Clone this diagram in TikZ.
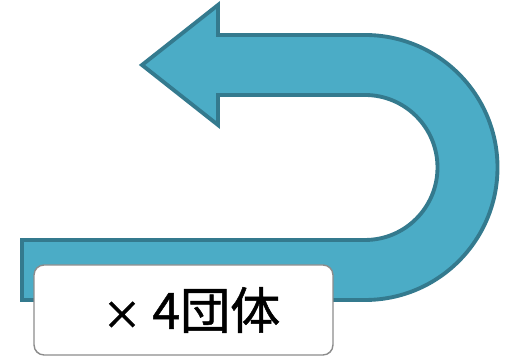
\documentclass[tikz,border=0pt]{standalone}
\usepackage{fontspec}
\usepackage{tikz}
\newfontfamily\jpfont[FakeBold=1]{Noto Sans CJK JP}
\newfontfamily\crossfont[FakeBold=2.5]{Noto Sans CJK JP}
\definecolor{uturnfill}{HTML}{4BACC6}
\definecolor{uturnline}{HTML}{347A8E}
\definecolor{boxline}{HTML}{8C8C8C}

\begin{document}
\begin{tikzpicture}[x=0.02cm, y=0.02cm,
    uturn/.style={fill=uturnfill, draw=uturnline, line width=2.2pt, line join=miter},
    countbox/.style={draw=boxline, fill=white, line width=0.8pt, rounded corners=0.2cm,
        minimum width=5.98cm, minimum height=1.8cm, inner sep=0pt,
        font=\jpfont\fontsize{28.5}{30}\selectfont}]
    \useasboundingbox (0,0) rectangle (505,357);
    % U-turn arrow
    \draw[uturn] (142,292) -- (218,352) -- (218,322) -- (365,322)
        arc (90:-90:132.5) -- (22,57) -- (22,117) -- (365,117)
        arc (-90:90:72.5) -- (218,262) -- (218,232) -- cycle;
    % label box
    \node[countbox] (count) at (183.5,47)
        {\hspace{0.32cm}{\crossfont\fontsize{22}{22}\selectfont ×}\hspace{0.22cm}4団体};
\end{tikzpicture}
\end{document}
